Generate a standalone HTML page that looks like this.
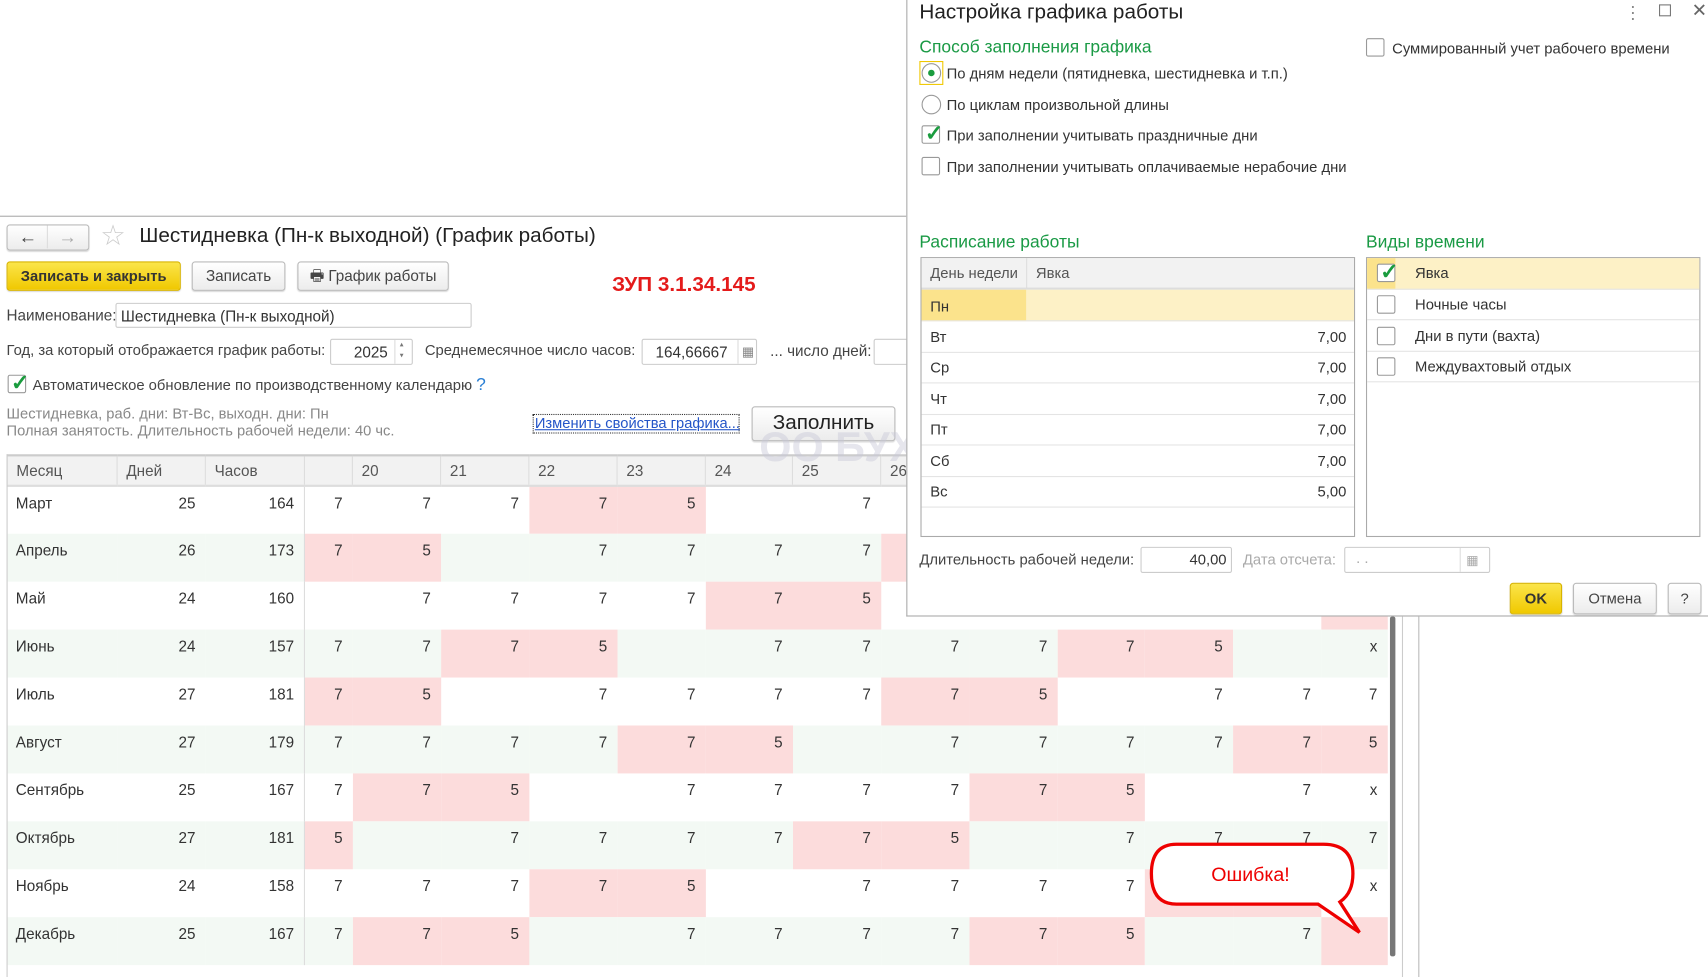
<!DOCTYPE html>
<html><head><meta charset="utf-8">
<style>
*{box-sizing:border-box;margin:0;padding:0}
html,body{width:1708px;height:977px;overflow:hidden;background:#fff}
body{font-family:"Liberation Sans",Arial,sans-serif;color:#333}
#w{position:absolute;left:0;top:0;width:1568px;height:897px;transform:scale(1.0893);transform-origin:0 0;font-size:14px}
.a{position:absolute;white-space:nowrap}
.btn{position:absolute;border:1px solid #bbb;border-radius:3px;background:linear-gradient(#fff,#ececec);box-shadow:0 1px 1px rgba(0,0,0,.15);text-align:center;color:#444}
.inp{position:absolute;border:1px solid #ccc;border-radius:2px;background:#fff}
.cb{position:absolute;width:17px;height:17px;border:1px solid #999;border-radius:2px;background:#fff}
.chk{position:absolute;left:2px;top:-6px;color:#1a9c3e;font-size:20px;font-weight:bold}
.g{color:#1a9a45;font-size:16px}
table.t{position:absolute;left:6px;top:417px;border-collapse:collapse;table-layout:fixed}
table.t th{height:28px;background:#f2f2f2;font-weight:normal;text-align:left;padding-left:8px;border-left:1px solid #ddd;border-bottom:2px solid #ddd;border-top:2px solid #ccc;color:#555}
table.t td{height:44px;vertical-align:top;padding-top:7px;text-align:right;padding-right:9px;color:#333}
table.t tr:nth-child(odd) td{background:#f3f9f4}
table.t td.p{background:#fcdcdc!important}
table.t td.m{text-align:left;padding-left:8px}
table.t td.h{border-right:1px solid #ddd}
.dlg{position:absolute;left:832px;top:0;width:736px;height:566px;background:#fff;border-left:1px solid #aaa;border-bottom:1px solid #aaa;font-size:13.6px}
.st{position:absolute;border:1px solid #aaa;background:#fff}
.row{position:absolute;left:0;right:0;border-bottom:1px solid #e4e4e4}
</style></head><body><div id="w">
<div class="a" style="left:0;top:198px;width:832px;border-top:1px solid #aaa"></div>
<div class="btn" style="left:6px;top:206px;width:76px;height:24px;font-size:17px;line-height:21px;font-weight:bold"><span style="display:inline-block;width:36px;border-right:1px solid #ddd">&#8592;</span><span style="display:inline-block;width:36px;color:#aaa">&#8594;</span></div>
<div class="a" style="left:92px;top:201px;font-size:26px;color:#ccc">☆</div>
<div class="a" style="left:128px;top:206px;font-size:19px;color:#222">Шестидневка (Пн-к выходной) (График работы)</div>
<div class="btn" style="left:6px;top:240px;width:160px;height:27px;background:linear-gradient(#fbe54a,#f0c800);border-color:#d8b400;font-weight:bold;color:#333;line-height:25px;font-size:13.5px">Записать и закрыть</div>
<div class="btn" style="left:176px;top:240px;width:86px;height:27px;line-height:25px">Записать</div>
<div class="btn" style="left:273px;top:240px;width:139px;height:27px;line-height:25px">🖶&nbsp;График работы</div>
<div class="a" style="left:562px;top:251px;font-size:19px;font-weight:bold;color:#e41b1b">ЗУП 3.1.34.145</div>
<div class="a" style="left:6px;top:281px;color:#444">Наименование:</div>
<div class="inp" style="left:106px;top:278px;width:327px;height:23px;padding:3px 4px;color:#333">Шестидневка (Пн-к выходной)</div>
<div class="a" style="left:6px;top:314px;color:#444;font-size:13.6px">Год, за который отображается график работы:</div>
<div class="inp" style="left:303px;top:311px;width:76px;height:24px;text-align:right;padding:3px 22px 0 0">2025</div>
<div class="a" style="left:362px;top:312px;height:22px;border-left:1px solid #ddd;font-size:7px;color:#777;padding-left:4px;line-height:10px">▴<br>▾</div>
<div class="a" style="left:390px;top:314px;color:#444;font-size:13.6px">Среднемесячное число часов:</div>
<div class="inp" style="left:589px;top:311px;width:106px;height:24px;padding:3px 26px 0 0;text-align:right">164,66667</div>
<div class="a" style="left:677px;top:312px;height:22px;border-left:1px solid #ddd;color:#888;padding-left:3px;font-size:12px;line-height:22px">▦</div>
<div class="a" style="left:707px;top:314px;color:#444">... число дней:</div>
<div class="inp" style="left:802px;top:311px;width:40px;height:24px"></div>
<div class="cb" style="left:7px;top:344px"><span class="chk">✓</span></div>
<div class="a" style="left:30px;top:345px;color:#444;font-size:13.6px">Автоматическое обновление по производственному календарю <span style="color:#2a7fd4;font-size:16px">?</span></div>
<div class="a" style="left:6px;top:372px;color:#888;font-size:13.5px;line-height:16px">Шестидневка, раб. дни: Вт-Вс, выходн. дни: Пн<br>Полная занятость. Длительность рабочей недели: 40 чс.</div>
<div class="a" style="left:489px;top:380px;width:190px;height:18px;border:1px dotted #333;color:#2455c8;text-decoration:underline;font-size:13.5px;padding-left:1px">Изменить свойства графика...</div>
<div class="btn" style="left:690px;top:373px;width:132px;height:32px;font-size:19px;line-height:29px;color:#222">Заполнить</div>

<table class="t">
<colgroup><col style="width:101px"><col style="width:81px"><col style="width:91px"><col style="width:44px"><col style="width:81px"><col style="width:81px"><col style="width:81px"><col style="width:81px"><col style="width:80px"><col style="width:81px"><col style="width:81px"><col style="width:81px"><col style="width:80px"><col style="width:81px"><col style="width:81px"><col style="width:61px"></colgroup>
<tr><th>Месяц</th><th>Дней</th><th>Часов</th><th></th><th>20</th><th>21</th><th>22</th><th>23</th><th>24</th><th>25</th><th>26</th><th></th><th></th><th></th><th></th><th></th></tr>
<tr><td class="m">Март</td><td>25</td><td class="h">164</td><td>7</td><td>7</td><td>7</td><td class="p">7</td><td class="p">5</td><td></td><td>7</td><td></td><td></td><td></td><td></td><td></td><td></td></tr>
<tr><td class="m">Апрель</td><td>26</td><td class="h">173</td><td class="p">7</td><td class="p">5</td><td></td><td>7</td><td>7</td><td>7</td><td>7</td><td class="p"></td><td></td><td></td><td></td><td></td><td></td></tr>
<tr><td class="m">Май</td><td>24</td><td class="h">160</td><td></td><td>7</td><td>7</td><td>7</td><td>7</td><td class="p">7</td><td class="p">5</td><td></td><td></td><td></td><td></td><td></td><td class="p"></td></tr>
<tr><td class="m">Июнь</td><td>24</td><td class="h">157</td><td>7</td><td>7</td><td class="p">7</td><td class="p">5</td><td></td><td>7</td><td>7</td><td>7</td><td>7</td><td class="p">7</td><td class="p">5</td><td></td><td>x</td></tr>
<tr><td class="m">Июль</td><td>27</td><td class="h">181</td><td class="p">7</td><td class="p">5</td><td></td><td>7</td><td>7</td><td>7</td><td>7</td><td class="p">7</td><td class="p">5</td><td></td><td>7</td><td>7</td><td>7</td></tr>
<tr><td class="m">Август</td><td>27</td><td class="h">179</td><td>7</td><td>7</td><td>7</td><td>7</td><td class="p">7</td><td class="p">5</td><td></td><td>7</td><td>7</td><td>7</td><td>7</td><td class="p">7</td><td class="p">5</td></tr>
<tr><td class="m">Сентябрь</td><td>25</td><td class="h">167</td><td>7</td><td class="p">7</td><td class="p">5</td><td></td><td>7</td><td>7</td><td>7</td><td>7</td><td class="p">7</td><td class="p">5</td><td></td><td>7</td><td>x</td></tr>
<tr><td class="m">Октябрь</td><td>27</td><td class="h">181</td><td class="p">5</td><td></td><td>7</td><td>7</td><td>7</td><td>7</td><td class="p">7</td><td class="p">5</td><td></td><td>7</td><td>7</td><td>7</td><td>7</td></tr>
<tr><td class="m">Ноябрь</td><td>24</td><td class="h">158</td><td>7</td><td>7</td><td>7</td><td class="p">7</td><td class="p">5</td><td></td><td>7</td><td>7</td><td>7</td><td>7</td><td class="p"></td><td class="p"></td><td>x</td></tr>
<tr><td class="m">Декабрь</td><td>25</td><td class="h">167</td><td>7</td><td class="p">7</td><td class="p">5</td><td></td><td>7</td><td>7</td><td>7</td><td>7</td><td class="p">7</td><td class="p">5</td><td></td><td>7</td><td class="p"></td></tr>
</table>
<div class="a" style="left:697px;top:390px;font-size:38px;font-weight:bold;color:rgba(200,200,215,.45)">ОО БУХЭКСПЕРТ</div>
<div class="a" style="left:6px;top:417px;height:480px;border-left:1px solid #ccc"></div>
<div class="a" style="left:1276px;top:566px;width:5px;height:312px;background:#777;border-radius:2px"></div>
<div class="a" style="left:1287px;top:566px;height:331px;border-left:1px solid #ccc"></div>
<div class="a" style="left:1302px;top:566px;height:331px;border-left:1px solid #bbb"></div>

<svg class="a" style="left:1050px;top:770px" width="210" height="95" viewBox="0 0 210 95">
<path d="M30 5 H165 Q192 5 192 32 Q192 50 180 58 L198 86 L160 60 H30 Q7 60 7 32 Q7 5 30 5 Z" fill="#fff" stroke="#e00" stroke-width="3"/>
<text x="98" y="39" text-anchor="middle" font-family="Liberation Sans" font-size="18" fill="#e00">Ошибка!</text></svg>

<div class="dlg">
<div class="a" style="left:11px;top:1px;font-size:19px;color:#222">Настройка графика работы</div>
<div class="a" style="left:658px;top:2px;color:#888;font-size:16px">⋮</div>
<div class="a" style="left:690px;top:4px;width:11px;height:11px;border:1.5px solid #777"></div>
<div class="a" style="left:720px;top:0px;color:#666;font-size:17px">✕</div>
<div class="a g" style="left:11px;top:35px">Способ заполнения графика</div>
<div class="a" style="left:11px;top:56px;width:22px;height:22px;border:1px solid #f0c800"></div>
<div class="a" style="left:13px;top:58px;width:18px;height:18px;border:1px solid #999;border-radius:50%"><div style="position:absolute;left:5px;top:5px;width:6px;height:6px;border-radius:50%;background:#1a9c3e"></div></div>
<div class="a" style="left:36px;top:60px">По дням недели (пятидневка, шестидневка и т.п.)</div>
<div class="a" style="left:13px;top:87px;width:18px;height:18px;border:1px solid #999;border-radius:50%"></div>
<div class="a" style="left:36px;top:89px">По циклам произвольной длины</div>
<div class="cb" style="left:13px;top:115px"><span class="chk">✓</span></div>
<div class="a" style="left:36px;top:117px">При заполнении учитывать праздничные дни</div>
<div class="cb" style="left:13px;top:144px"></div>
<div class="a" style="left:36px;top:146px">При заполнении учитывать оплачиваемые нерабочие дни</div>
<div class="cb" style="left:421px;top:35px"></div>
<div class="a" style="left:445px;top:37px">Суммированный учет рабочего времени</div>

<div class="a g" style="left:11px;top:214px">Расписание работы</div>
<div class="st" style="left:12px;top:236px;width:399px;height:257px">
 <div class="row" style="top:0;height:29px;background:#f2f2f2;border-bottom:2px solid #ddd"></div>
 <div class="a" style="left:8px;top:6px;color:#555">День недели</div>
 <div class="a" style="left:96px;top:0;height:28px;border-left:1px solid #ddd"></div>
 <div class="a" style="left:105px;top:6px;color:#555">Явка</div>
 <div class="row" style="top:29px;height:29px;background:#fdf1c6"><div style="width:96px;height:28px;background:#fbe38c"></div></div>
 <div class="a" style="left:8px;top:37px">Пн</div>
 <div class="row" style="top:58px;height:29px"></div><div class="a" style="left:8px;top:65px">Вт</div><div class="a" style="right:7px;top:65px">7,00</div>
 <div class="row" style="top:87px;height:28px"></div><div class="a" style="left:8px;top:93px">Ср</div><div class="a" style="right:7px;top:93px">7,00</div>
 <div class="row" style="top:115px;height:29px"></div><div class="a" style="left:8px;top:122px">Чт</div><div class="a" style="right:7px;top:122px">7,00</div>
 <div class="row" style="top:144px;height:28px"></div><div class="a" style="left:8px;top:150px">Пт</div><div class="a" style="right:7px;top:150px">7,00</div>
 <div class="row" style="top:172px;height:29px"></div><div class="a" style="left:8px;top:179px">Сб</div><div class="a" style="right:7px;top:179px">7,00</div>
 <div class="row" style="top:201px;height:28px"></div><div class="a" style="left:8px;top:207px">Вс</div><div class="a" style="right:7px;top:207px">5,00</div>
</div>
<div class="a g" style="left:421px;top:214px">Виды времени</div>
<div class="st" style="left:421px;top:236px;width:307px;height:257px">
 <div class="row" style="top:0;height:29px;background:#fdf1c6"><div style="width:26px;height:28px;background:#fbe38c"></div></div>
 <div class="cb" style="left:9px;top:5px"><span class="chk">✓</span></div><div class="a" style="left:44px;top:6px">Явка</div>
 <div class="row" style="top:29px;height:28px"></div><div class="cb" style="left:9px;top:34px"></div><div class="a" style="left:44px;top:35px">Ночные часы</div>
 <div class="row" style="top:57px;height:29px"></div><div class="cb" style="left:9px;top:63px"></div><div class="a" style="left:44px;top:64px">Дни в пути (вахта)</div>
 <div class="row" style="top:86px;height:28px"></div><div class="cb" style="left:9px;top:91px"></div><div class="a" style="left:44px;top:92px">Междувахтовый отдых</div>
</div>
<div class="a" style="left:11px;top:506px;color:#444">Длительность рабочей недели:</div>
<div class="inp" style="left:214px;top:502px;width:84px;height:24px;text-align:right;padding:3px 4px 0 0">40,00</div>
<div class="a" style="left:308px;top:506px;color:#aaa">Дата отсчета:</div>
<div class="inp" style="left:401px;top:502px;width:134px;height:24px;color:#aaa;padding:2px 10px">. .</div>
<div class="a" style="left:507px;top:503px;height:22px;border-left:1px solid #ddd;color:#aaa;font-size:12px;padding-left:5px;line-height:22px">▦</div>
<div class="btn" style="left:553px;top:535px;width:48px;height:29px;background:linear-gradient(#fbe54a,#f0c800);border-color:#d8b400;font-weight:bold;line-height:27px;color:#333">OK</div>
<div class="btn" style="left:611px;top:535px;width:77px;height:29px;line-height:27px">Отмена</div>
<div class="btn" style="left:698px;top:535px;width:31px;height:29px;line-height:27px">?</div>
</div>
</div></body></html>
